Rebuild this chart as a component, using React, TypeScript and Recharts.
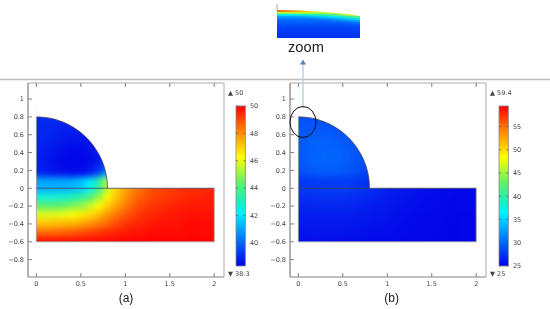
import React from 'react'
import { Area, ComposedChart, Line, ReferenceArea, XAxis, YAxis } from 'recharts'

// colormap positions
const mapStops = [0, 0.16, 0.33, 0.42, 0.52, 0.68, 0.85, 1]
const mapColors = ['#0000e8', '#0070ff', '#00f0ff', '#20f0b0', '#60f068', '#ffff00', '#ff8000', '#ff0000']

const xTicks = [0, 0.5, 1, 1.5, 2]
const yTicks = [-0.8, -0.6, -0.4, -0.2, 0, 0.2, 0.4, 0.6, 0.8, 1]
const barTicksA = [40, 42, 44, 46, 48, 50]
const barTicksB = [25, 30, 35, 40, 45, 50, 55]

// top of the quarter disc
const arcX = [0, 0.05, 0.1, 0.15, 0.2, 0.25, 0.3, 0.35, 0.4, 0.45, 0.5, 0.55, 0.6, 0.65, 0.7, 0.72, 0.74, 0.76, 0.78, 0.79, 0.795, 0.8]
const arcY = [0.8, 0.798, 0.794, 0.786, 0.775, 0.76, 0.742, 0.719, 0.693, 0.661, 0.625, 0.581, 0.529, 0.466, 0.387, 0.349, 0.304, 0.25, 0.178, 0.126, 0.089, 0]

// rows run from y = 0.8 down to y = -0.6, columns from x = 0 in 0.1 steps
const rowY = [0.8, 0.7, 0.6, 0.5, 0.4, 0.3, 0.2, 0.1, 0, -0.1, -0.2, -0.3, -0.4, -0.5, -0.6]

const tempA = [
  [39.0, 39.0, 39.0, 38.9, 38.9, 38.9, 38.9, 38.9, 39.0, 39.0],
  [38.9, 38.9, 38.9, 38.8, 38.8, 38.8, 38.8, 38.8, 38.9, 39.0],
  [38.9, 38.9, 38.8, 38.7, 38.7, 38.7, 38.7, 38.7, 38.9, 39.0],
  [38.9, 38.8, 38.7, 38.6, 38.5, 38.5, 38.6, 38.7, 39.0, 39.1],
  [38.9, 38.7, 38.6, 38.5, 38.4, 38.4, 38.5, 38.7, 39.1, 39.4],
  [38.8, 38.7, 38.5, 38.4, 38.4, 38.4, 38.4, 38.7, 39.3, 39.8],
  [38.8, 38.7, 38.6, 38.5, 38.4, 38.4, 38.6, 39.1, 40.3, 42.0],
  [39.1, 39.0, 38.9, 38.8, 38.7, 38.8, 39.2, 40.5, 42.3, 44.0],
  [41.1, 41.1, 41.1, 41.1, 41.2, 41.5, 42.2, 43.4, 45.5, 46.8, 47.7, 48.2, 48.6, 48.9, 49.1, 49.2, 49.3, 49.4, 49.4, 49.5, 49.5],
  [42.7, 42.7, 42.7, 42.8, 43.0, 43.4, 44.0, 45.0, 46.2, 47.2, 47.9, 48.5, 48.8, 49.1, 49.2, 49.3, 49.4, 49.5, 49.5, 49.6, 49.6],
  [44.3, 44.3, 44.3, 44.4, 44.7, 45.0, 45.5, 46.2, 47.0, 47.7, 48.3, 48.8, 49.1, 49.3, 49.4, 49.5, 49.6, 49.6, 49.7, 49.7, 49.7],
  [45.9, 45.9, 45.9, 46.0, 46.2, 46.5, 46.8, 47.3, 47.9, 48.4, 48.8, 49.1, 49.4, 49.5, 49.6, 49.7, 49.7, 49.8, 49.8, 49.8, 49.8],
  [47.2, 47.2, 47.3, 47.4, 47.5, 47.7, 48.0, 48.3, 48.6, 49.0, 49.3, 49.5, 49.6, 49.7, 49.8, 49.8, 49.8, 49.9, 49.9, 49.9, 49.9],
  [48.6, 48.6, 48.6, 48.7, 48.8, 49.0, 49.1, 49.3, 49.4, 49.6, 49.7, 49.8, 49.8, 49.9, 49.9, 49.9, 49.9, 49.9, 49.9, 49.9, 49.9],
  [49.9, 49.9, 49.9, 49.9, 49.9, 49.9, 49.9, 49.9, 49.9, 50, 50, 50, 50, 50, 50, 50, 50, 50, 50, 50, 50],
]

const tempB = [
  [28.8, 28.8, 28.7, 28.6, 28.5, 28.4, 28.3, 28.2, 28.0, 28.0],
  [29.0, 29.1, 29.1, 29.0, 28.9, 28.7, 28.5, 28.4, 28.2, 28.2],
  [29.2, 29.3, 29.4, 29.4, 29.3, 29.1, 28.9, 28.6, 28.4, 28.4],
  [29.3, 29.5, 29.7, 29.7, 29.6, 29.4, 29.1, 28.8, 28.5, 28.5],
  [29.3, 29.6, 29.8, 29.9, 29.8, 29.6, 29.3, 29.0, 28.6, 28.5],
  [29.2, 29.5, 29.8, 29.9, 29.8, 29.6, 29.3, 29.0, 28.6, 28.4],
  [28.9, 29.2, 29.4, 29.6, 29.5, 29.3, 29.1, 28.7, 28.3, 28.1],
  [28.4, 28.6, 28.8, 28.9, 28.9, 28.8, 28.6, 28.3, 28.0, 27.5],
  [27.6, 27.7, 27.8, 27.9, 27.9, 27.9, 27.8, 27.6, 27.3, 26.9, 26.5, 26.2, 26.0, 25.8, 25.6, 25.5, 25.4, 25.4, 25.3, 25.3, 25.3],
  [27.1, 27.2, 27.2, 27.3, 27.3, 27.2, 27.1, 27.0, 26.8, 26.5, 26.2, 26.0, 25.8, 25.6, 25.5, 25.4, 25.3, 25.3, 25.3, 25.2, 25.2],
  [26.7, 26.7, 26.8, 26.8, 26.8, 26.8, 26.7, 26.5, 26.4, 26.2, 26.0, 25.8, 25.6, 25.5, 25.4, 25.3, 25.3, 25.2, 25.2, 25.2, 25.2],
  [26.4, 26.4, 26.4, 26.4, 26.4, 26.4, 26.3, 26.2, 26.1, 25.9, 25.8, 25.6, 25.5, 25.4, 25.3, 25.3, 25.2, 25.2, 25.2, 25.1, 25.1],
  [26.1, 26.1, 26.1, 26.1, 26.1, 26.0, 26.0, 25.9, 25.8, 25.7, 25.6, 25.5, 25.4, 25.3, 25.3, 25.2, 25.2, 25.1, 25.1, 25.1, 25.1],
  [25.8, 25.8, 25.8, 25.8, 25.8, 25.8, 25.7, 25.7, 25.6, 25.5, 25.5, 25.4, 25.3, 25.3, 25.2, 25.2, 25.1, 25.1, 25.1, 25.1, 25.1],
  [25.6, 25.6, 25.6, 25.6, 25.5, 25.5, 25.5, 25.5, 25.4, 25.4, 25.3, 25.3, 25.2, 25.2, 25.2, 25.1, 25.1, 25.1, 25.1, 25.0, 25.0],
]

// zoomed inset: y is depth in picture pixels from the bottom edge, x is a column index
const insetRowY = [29, 27, 25, 23, 21, 19, 17, 15, 13, 11, 9, 7, 5, 3, 1]
const insetTemp = [
  [57, 56, 54, 51, 48, 47, 47, 47],
  [56, 55, 53, 50, 47, 47, 47, 47],
  [46, 46, 46, 46, 46, 47, 47, 47],
  [37, 37, 38, 39, 40, 42, 46, 47],
  [33, 33, 33, 34, 35, 36, 40, 43],
  [31, 31, 31, 31, 32, 33, 35, 37],
  [30, 30, 30, 30, 30, 31, 32, 33.5],
  [29.5, 29.5, 29.5, 29.5, 29.5, 29.6, 30, 31],
  [29, 29, 29, 29, 29, 29, 29.2, 29.5],
  [28.5, 28.5, 28.5, 28.5, 28.5, 28.5, 28.6, 28.8],
  [28.2, 28.2, 28.2, 28.2, 28.2, 28.2, 28.2, 28.3],
  [28, 28, 28, 28, 28, 28, 28, 28],
  [27.8, 27.8, 27.8, 27.8, 27.8, 27.8, 27.8, 27.8],
  [27.6, 27.6, 27.6, 27.6, 27.6, 27.6, 27.6, 27.6],
  [27.4, 27.4, 27.4, 27.4, 27.4, 27.4, 27.4, 27.4],
]
const insetTopX = [0, 1, 2, 3, 4, 5, 6, 7]
const insetTopY = [28, 27.8, 27.4, 26.8, 26, 25, 23.8, 22]

const FONT = 'DejaVu Sans, sans-serif'
const TEXT = '#444'
const FRAME = '#808080'
const X_DOMAIN: [number, number] = [-0.094, 2.11]
const Y_DOMAIN: [number, number] = [-0.995, 1.18]
const CHART_W = 230
const CHART_H = 210
const MARGIN = { left: 27, top: 2, right: 5, bottom: 12 }
const PLOT_MARGIN = { left: 28, top: 3, right: 6, bottom: 13 }

const hex = (c: string, i: number) => parseInt(c.slice(i, i + 2), 16)

function colorAt(v: number, min: number, max: number) {
  const t = Math.min(1, Math.max(0, (v - min) / (max - min)))
  let i = 0
  while (i < mapStops.length - 2 && t > mapStops[i + 1]) i++
  const k = (t - mapStops[i]) / (mapStops[i + 1] - mapStops[i])
  const ch = (n: number) => Math.round(hex(mapColors[i], n) + (hex(mapColors[i + 1], n) - hex(mapColors[i], n)) * k)
  return `rgb(${ch(1)},${ch(3)},${ch(5)})`
}

function heatCells(table: number[][], rows: number[], dx: number, dy: number, pad: number, min: number, max: number) {
  return table.flatMap((row, r) =>
    row.map((v, c) => {
      const fill = colorAt(v, min, max)
      const x = c * dx
      const y = rows[r]
      return (
        <ReferenceArea
          key={`${r}-${c}`}
          ifOverflow="visible"
          x1={c === 0 ? x - dx / 2 - pad : x - dx / 2}
          x2={c === row.length - 1 ? x + dx / 2 + pad : x + dx / 2}
          y1={r === table.length - 1 ? y - dy / 2 - pad : y - dy / 2}
          y2={r === 0 || (row.length > 10 && rows[r] === 0) ? y + dy / 2 + pad : y + dy / 2}
          fill={fill}
          fillOpacity={1}
          stroke={fill}
          strokeWidth={0.5}
        />
      )
    }),
  )
}

const upperMask = [
  ...arcX.map((x, i) => ({ x, band: [arcY[i], Y_DOMAIN[1]] })),
  { x: X_DOMAIN[1], band: [0, Y_DOMAIN[1]] },
]
const lowerMask = [
  { x: X_DOMAIN[0], band: [Y_DOMAIN[0], -0.6] },
  { x: X_DOMAIN[1], band: [Y_DOMAIN[0], -0.6] },
]
const arcLine = arcX.map((x, i) => ({ x, y: arcY[i] }))
const baseLine = [{ x: 0, y: 0 }, { x: 2, y: 0 }]
const rectLine = [{ x: 0, y: 0.8 }, { x: 0, y: -0.6 }, { x: 2, y: -0.6 }, { x: 2, y: 0 }]

const fmt = (v: number) => String(v).replace('-', '\u2212')

const LeftTick = ({ x, y, payload }: any) => (
  <g>
    <line x1={x} x2={x + 4} y1={y} y2={y} stroke={FRAME} />
    <text x={x - 4} y={y + 2.4} textAnchor="end" fontSize={6.5} fontFamily={FONT} fill={TEXT}>{fmt(payload.value)}</text>
  </g>
)
const RightTick = ({ x, y }: any) => <line x1={x} x2={x - 4} y1={y} y2={y} stroke={FRAME} />
const BottomTick = ({ x, y, payload }: any) => (
  <g>
    <line x1={x} x2={x} y1={y} y2={y - 4} stroke={FRAME} />
    <text x={x} y={y + 9} textAnchor="middle" fontSize={6.5} fontFamily={FONT} fill={TEXT}>{fmt(payload.value)}</text>
  </g>
)
const TopTick = ({ x, y }: any) => <line x1={x} x2={x} y1={y} y2={y + 4} stroke={FRAME} />

const BarTick = ({ x, y, payload }: any) => (
  <g>
    <line x1={x} x2={x - 2} y1={y} y2={y} stroke="#555" strokeWidth={0.7} />
    <line x1={x - 9.4} x2={x - 7.4} y1={y} y2={y} stroke="#555" strokeWidth={0.7} />
    <text x={x + 4.5} y={y + 2.4} fontSize={6.5} fontFamily={FONT} fill={TEXT}>{payload.value}</text>
  </g>
)

function Panel({ left, table, min, max }: { left: number; table: number[][]; min: number; max: number }) {
  const boxStyle: React.CSSProperties = { position: 'absolute', left, top: 80, width: CHART_W, height: CHART_H }
  return (
    <>
      <div style={{ ...boxStyle, clipPath: 'inset(3px 6px 13px 28px)' }}>
        <div style={{ filter: 'blur(3.4px)' }}>
          <ComposedChart width={CHART_W} height={CHART_H} margin={PLOT_MARGIN} data={baseLine}>
            <XAxis dataKey="x" type="number" domain={X_DOMAIN} hide />
            <YAxis type="number" domain={Y_DOMAIN} hide />
            <Line dataKey="y" stroke="none" dot={false} activeDot={false} isAnimationActive={false} />
            {heatCells(table, rowY, 0.1, 0.1, 0.07, min, max)}
          </ComposedChart>
        </div>
      </div>
      <div style={boxStyle}>
        <ComposedChart width={CHART_W} height={CHART_H} margin={MARGIN} data={upperMask}>
          <ReferenceArea ifOverflow="visible" x1={X_DOMAIN[0]} x2={0.006} y1={0.795} y2={Y_DOMAIN[1]} fill="#fff" fillOpacity={1} stroke="none" />
          <ReferenceArea ifOverflow="visible" x1={X_DOMAIN[0]} x2={0} y1={Y_DOMAIN[0]} y2={0.8} fill="#fff" fillOpacity={1} stroke="none" />
          <ReferenceArea ifOverflow="visible" x1={2} x2={X_DOMAIN[1]} y1={Y_DOMAIN[0]} y2={0.03} fill="#fff" fillOpacity={1} stroke="none" />
          <Area dataKey="band" type="linear" stroke="none" fill="#fff" fillOpacity={1} dot={false} activeDot={false} isAnimationActive={false} />
          <Area data={lowerMask} dataKey="band" type="linear" stroke="none" fill="#fff" fillOpacity={1} dot={false} activeDot={false} isAnimationActive={false} />
          <Line data={rectLine} dataKey="y" stroke="#9a9a9a" strokeWidth={0.8} dot={false} activeDot={false} isAnimationActive={false} />
          <Line data={baseLine} dataKey="y" stroke="#445" strokeWidth={0.8} dot={false} activeDot={false} isAnimationActive={false} />
          <Line data={arcLine} dataKey="y" stroke="#445" strokeWidth={0.8} dot={false} activeDot={false} isAnimationActive={false} />
          <XAxis dataKey="x" type="number" domain={X_DOMAIN} ticks={xTicks} interval={0} height={1} tickSize={0} tickMargin={0} tickLine={false} stroke={FRAME} strokeWidth={1.2} tick={BottomTick} />
          <XAxis xAxisId="top" orientation="top" dataKey="x" type="number" domain={X_DOMAIN} ticks={xTicks} interval={0} height={1} tickSize={0} tickMargin={0} tickLine={false} stroke="#aaa" tick={TopTick} />
          <YAxis type="number" domain={Y_DOMAIN} ticks={yTicks} interval={0} width={1} tickSize={0} tickMargin={0} tickLine={false} stroke={FRAME} strokeWidth={1.2} tick={LeftTick} />
          <YAxis yAxisId="right" orientation="right" type="number" domain={Y_DOMAIN} ticks={yTicks} interval={0} width={1} tickSize={0} tickMargin={0} tickLine={false} stroke="#aaa" tick={RightTick} />
        </ComposedChart>
      </div>
    </>
  )
}

function ColorBar({ id, left, min, max, ticks }: { id: string; left: number; min: number; max: number; ticks: number[] }) {
  return (
    <div style={{ position: 'absolute', left, top: 100, width: 40, height: 172 }}>
      <ComposedChart width={40} height={172} margin={{ left: 6, top: 6, right: 23.6, bottom: 6 }} data={[{ x: 0, y: min }, { x: 1, y: max }]}>
        <defs>
          <linearGradient id={id} x1="0" y1="1" x2="0" y2="0">
            {mapStops.map((s, i) => <stop key={s} offset={s} stopColor={mapColors[i]} />)}
          </linearGradient>
        </defs>
        <XAxis dataKey="x" type="number" domain={[0, 1]} hide />
        <Line dataKey="y" stroke="none" dot={false} activeDot={false} isAnimationActive={false} />
        <ReferenceArea ifOverflow="visible" x1={0} x2={1} y1={min} y2={max} fill={`url(#${id})`} fillOpacity={1} stroke="#888" strokeWidth={0.8} />
        <YAxis orientation="right" type="number" domain={[min, max]} ticks={ticks} interval={0} width={1} tickSize={0} tickMargin={0} tickLine={false} axisLine={false} tick={BarTick} />
      </ComposedChart>
    </div>
  )
}

// 16px of spare room left and right of the visible inset, 4px above and below
const INSET_X: [number, number] = [-1.349, 8.349]
const INSET_Y: [number, number] = [-4, 32]
const insetMask = insetTopX.map((x, i) => ({ x, y: 0, band: [insetTopY[i], INSET_Y[1]] }))

function Inset() {
  return (
    <div style={{ position: 'absolute', left: 277, top: 10, width: 83, height: 28, overflow: 'hidden' }}>
      <svg width={0} height={0} style={{ position: 'absolute' }}>
        <filter id="insetBlur" x="-20%" y="-20%" width="140%" height="140%">
          <feGaussianBlur stdDeviation="4 0.6" />
        </filter>
      </svg>
      <div style={{ position: 'absolute', left: -16, top: -4, filter: 'url(#insetBlur)' }}>
        <ComposedChart width={115} height={36} margin={{ left: 0, top: 0, right: 0, bottom: 0 }} data={insetMask}>
          <XAxis dataKey="x" type="number" domain={INSET_X} hide />
          <YAxis type="number" domain={INSET_Y} hide />
          <Line dataKey="y" stroke="none" dot={false} activeDot={false} isAnimationActive={false} />
          {heatCells(insetTemp, insetRowY, 1, 2, 0.8, 25, 59.4)}
        </ComposedChart>
      </div>
      <div style={{ position: 'absolute', left: -16, top: -4 }}>
        <ComposedChart width={115} height={36} margin={{ left: 0, top: 0, right: 0, bottom: 0 }} data={insetMask}>
          <XAxis dataKey="x" type="number" domain={INSET_X} hide />
          <YAxis type="number" domain={INSET_Y} hide />
          <Area dataKey="band" type="linear" stroke="none" fill="#fff" fillOpacity={1} dot={false} activeDot={false} isAnimationActive={false} />
        </ComposedChart>
      </div>
    </div>
  )
}

function Notes() {
  const small = { fontSize: 6.5, fontFamily: FONT, fill: TEXT }
  const big = { fontFamily: 'Liberation Sans, sans-serif', fill: '#222' }
  return (
    <svg width={550} height={309} style={{ position: 'absolute', left: 0, top: 0 }}>
      <line x1={277} x2={277} y1={4} y2={10} stroke="#aaa" />
      <line x1={0} x2={550} y1={79.5} y2={79.5} stroke="#bdbdbd" strokeWidth={1.3} />
      <line x1={303} x2={303} y1={64} y2={108} stroke="#c2cfe8" strokeWidth={1.5} />
      <path d="M303 59.5 L306 64.5 L300 64.5 Z" fill="#5b7fc4" />
      <ellipse cx={303} cy={122} rx={13} ry={15.5} fill="none" stroke="#111" strokeWidth={1} />
      <text x={288} y={52} fontSize={14.7} {...big}>zoom</text>
      <text x={126} y={302} fontSize={12} textAnchor="middle" {...big}>(a)</text>
      <text x={391.7} y={302} fontSize={12} textAnchor="middle" {...big}>(b)</text>
      <text x={228} y={95} {...small}>{'\u25B2'} 50</text>
      <text x={228} y={276} {...small}>{'\u25BC'} 38.3</text>
      <text x={490} y={95} {...small}>{'\u25B2'} 59.4</text>
      <text x={490} y={276} {...small}>{'\u25BC'} 25</text>
    </svg>
  )
}

export default function App() {
  return (
    <div style={{ position: 'absolute', left: 0, top: 0, width: 550, height: 309, overflow: 'hidden', background: '#fff', filter: 'blur(0.3px)' }}>
      <Inset />
      <Panel left={0} table={tempA} min={38.3} max={50} />
      <Panel left={262} table={tempB} min={25} max={59.4} />
      <ColorBar id="barA" left={230.3} min={38.3} max={50} ticks={barTicksA} />
      <ColorBar id="barB" left={492.7} min={25} max={59.4} ticks={barTicksB} />
      <Notes />
    </div>
  )
}
